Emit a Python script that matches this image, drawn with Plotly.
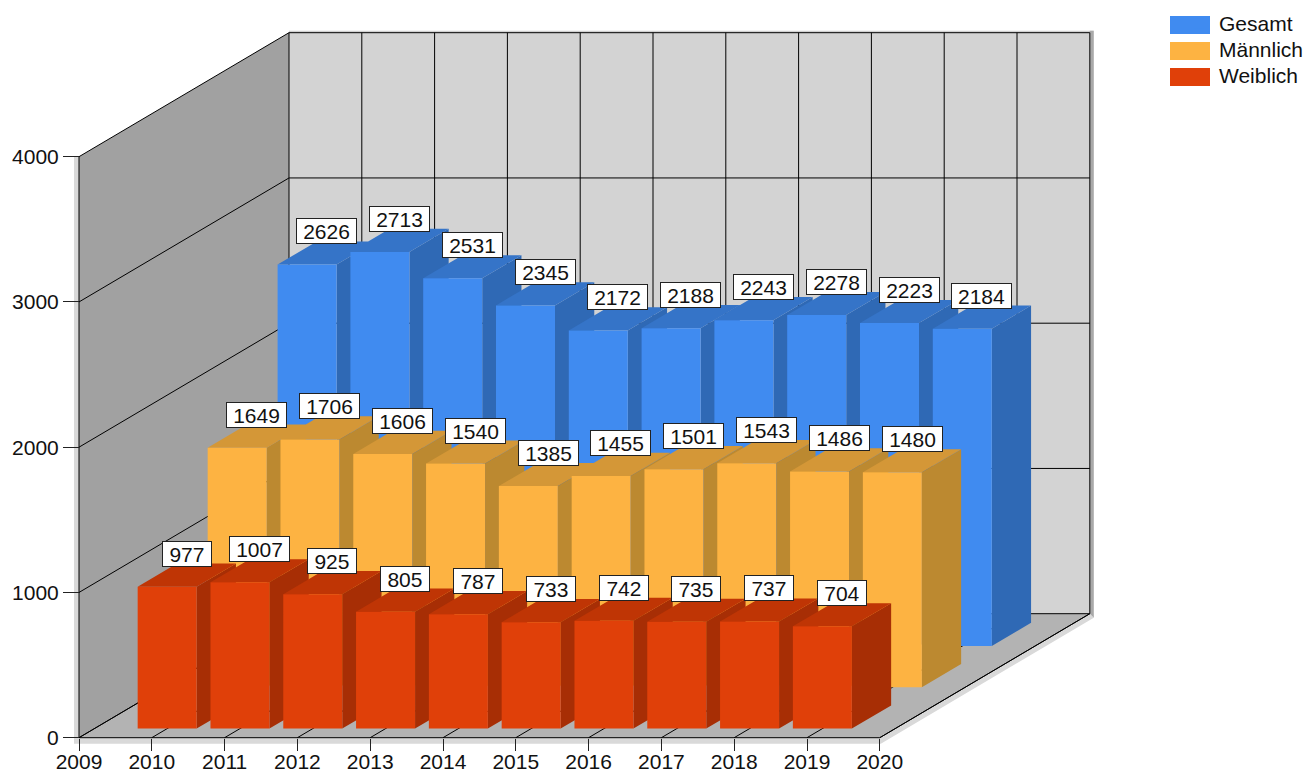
import plotly.graph_objects as go

# ---------- data ----------
years = [2010, 2011, 2012, 2013, 2014, 2015, 2016, 2017, 2018, 2019]
gesamt = [2626, 2713, 2531, 2345, 2172, 2188, 2243, 2278, 2223, 2184]
maennlich = [1649, 1706, 1606, 1540, 1385, 1455, 1501, 1543, 1486, 1480]
weiblich = [977, 1007, 925, 805, 787, 733, 742, 735, 737, 704]
x_ticks = list(range(2009, 2021))
y_ticks = [0, 1000, 2000, 3000, 4000]

FONT = "Liberation Sans, Arial, sans-serif"
TEXT = "#111111"
FS = 21

# ---------- geometry of the oblique projection ----------
W, H = 1305, 771
L, R, T, B = 68, 1100, 26, 748        # plot area, pixels
X0_PX, Y0_PX = 79.0, 737.7            # where (2009, 0) sits
PX_PER_YEAR = 72.8
PX_PER_UNIT = 581.0 / 4000
DEPTH_X = 210.0 / PX_PER_YEAR         # full depth of the box, in years
DEPTH_Y = 124.0 / PX_PER_UNIT         # full depth of the box, in value units
BAR_W = 59.0 / PX_PER_YEAR
BAR_D = 0.187
XMIN, XMAX, YMAX = 2009, 2020, 4000


def P(x, y, d=0.0, ox=0.0, oy=0.0):
    """Project (year, value, depth) onto the 2D axes; ox/oy is a pixel offset."""
    return (x + d * DEPTH_X + ox / PX_PER_YEAR, y + d * DEPTH_Y - oy / PX_PER_UNIT)


def poly_trace(polys, color):
    xs, ys = [], []
    for poly in polys:
        xs += [p[0] for p in poly] + [poly[0][0], None]
        ys += [p[1] for p in poly] + [poly[0][1], None]
    return go.Scatter(x=xs, y=ys, mode="lines", line=dict(width=0, color=color), fill="toself",
                      fillcolor=color, hoverinfo="skip", showlegend=False)


def line_trace(segs, color="#000000", width=1):
    xs, ys = [], []
    for seg in segs:
        xs += [p[0] for p in seg] + [None]
        ys += [p[1] for p in seg] + [None]
    return go.Scatter(x=xs, y=ys, mode="lines", line=dict(width=width, color=color),
                      hoverinfo="skip", showlegend=False)


fig = go.Figure()

# ---------- shadows ----------
fig.add_trace(poly_trace([[P(XMIN, YMAX, 0, -5), P(XMIN, YMAX), P(XMIN, 0), P(XMAX, 0), P(XMAX, 0, 1),
                           P(XMAX, 0, 1, 4, 4), P(XMAX, 0, 0, 1, 6), P(XMIN, 0, 0, -5, 6)]], "#d9d9d9"))
fig.add_trace(poly_trace([[P(XMIN, YMAX, 1), P(XMIN, YMAX, 1, 0, -2), P(XMAX, YMAX, 1, 4, -2), P(XMAX, YMAX, 1)]], "#d0d0d0"))
fig.add_trace(poly_trace([[P(XMAX, YMAX, 1, 0, -2), P(XMAX, YMAX, 1, 4, -2), P(XMAX, 0, 1, 4, 4), P(XMAX, 0, 1)]], "#a9a9a9"))

# ---------- walls ----------
fig.add_trace(poly_trace([[P(XMIN, 0), P(XMIN, YMAX), P(XMIN, YMAX, 1), P(XMIN, 0, 1)]], "#a1a1a1"))
fig.add_trace(poly_trace([[P(XMIN, 0, 1), P(XMIN, YMAX, 1), P(XMAX, YMAX, 1), P(XMAX, 0, 1)]], "#d3d3d3"))
fig.add_trace(poly_trace([[P(XMIN, 0), P(XMAX, 0), P(XMAX, 0, 1), P(XMIN, 0, 1)]], "#b3b3b3"))

# ---------- grid and edges ----------
segs = []
for v in y_ticks:
    segs.append([P(XMIN, v), P(XMIN, v, 1), P(XMAX, v, 1)])
for x in x_ticks:
    segs.append([P(x, 0), P(x, 0, 1), P(x, YMAX, 1)])
segs.append([P(XMIN, 0), P(XMAX, 0), P(XMAX, 0, 1)])
segs.append([P(XMIN, 0), P(XMIN, YMAX)])
fig.add_trace(line_trace(segs))

# ---------- bars ----------
series = [
    ("Gesamt", gesamt, 0.833, "#408bf0", "#3574c8", "#2f69b5"),
    ("Männlich", maennlich, 0.5, "#fdb342", "#d49737", "#bc8930"),
    ("Weiblich", weiblich, 0.1667, "#e04009", "#bf3505", "#a72e05"),
]
annotations = []
for name, vals, mid, front_c, top_c, side_c in series:
    d0, d1 = mid - BAR_D / 2, mid + BAR_D / 2
    fronts, tops, sides = [], [], []
    for yr, v in zip(years, vals):
        a, b = yr - BAR_W / 2, yr + BAR_W / 2
        fronts.append([P(a, 0, d0), P(a, v, d0), P(b, v, d0), P(b, 0, d0)])
        tops.append([P(a, v, d0), P(a, v, d1), P(b, v, d1), P(b, v, d0)])
        sides.append([P(b, 0, d0), P(b, v, d0), P(b, v, d1), P(b, 0, d1)])
        lx, ly = P(yr, v, mid)
        annotations.append(dict(x=lx, y=ly, xref="x", yref="y", text=str(v), showarrow=False,
                                yshift=21.5, xanchor="center", yanchor="middle", align="center", valign="middle",
                                width=len(str(v)) * 11.12 + 12.5, height=22, borderpad=1, borderwidth=1,
                                bordercolor="#222222", bgcolor="#ffffff",
                                font=dict(family=FONT, size=FS, color=TEXT)))
    fig.add_trace(poly_trace(sides, side_c))
    fig.add_trace(poly_trace(tops, top_c))
    fig.add_trace(poly_trace(fronts, front_c))

# ---------- legend: one native legend per row, wide swatches behind the markers ----------
legend_rows = [(25.0, "legend"), (51.0, "legend2"), (77.0, "legend3")]
shapes = []
legends = {}
for (name, vals, mid, front_c, top_c, side_c), (ypx, key) in zip(series, legend_rows):
    fig.add_trace(go.Scatter(x=[None], y=[None], mode="markers", name=name, legend=key, showlegend=True,
                             marker=dict(symbol="square", size=10, color=front_c)))
    shapes.append(dict(type="rect", xref="paper", yref="paper", layer="below", line_width=0, fillcolor=front_c,
                       x0=(1170 - L) / (R - L), x1=(1210 - L) / (R - L),
                       y0=(B - ypx - 9) / (B - T), y1=(B - ypx + 9) / (B - T)))
    legends[key] = dict(x=(1179 - L) / (R - L), y=(B - ypx + 1.5) / (B - T), xref="paper", yref="paper",
                        xanchor="left", yanchor="middle", bgcolor="rgba(0,0,0,0)", borderwidth=0,
                        itemwidth=30, itemclick=False, itemdoubleclick=False,
                        font=dict(family=FONT, size=FS, color=TEXT))

fig.update_layout(
    width=W, height=H, autosize=False,
    margin=dict(l=L, r=W - R, t=T, b=H - B, pad=0, autoexpand=False),
    paper_bgcolor="#ffffff", plot_bgcolor="#ffffff",
    showlegend=True, hovermode=False,
    annotations=annotations, shapes=shapes,
    xaxis=dict(range=[XMIN + (L - X0_PX) / PX_PER_YEAR, XMIN + (R - X0_PX) / PX_PER_YEAR],
               tickmode="array", tickvals=x_ticks, ticktext=[str(t) for t in x_ticks],
               anchor="free", position=(B - Y0_PX) / (B - T), showgrid=False, zeroline=False, showline=False,
               ticks="outside", ticklen=12, tickwidth=1, tickcolor="#222222", ticklabelstandoff=-7,
               tickfont=dict(family=FONT, size=FS, color=TEXT), automargin=False, fixedrange=True),
    yaxis=dict(range=[(Y0_PX - B) / PX_PER_UNIT, (Y0_PX - T) / PX_PER_UNIT],
               tickmode="array", tickvals=y_ticks, ticktext=[str(t) for t in y_ticks],
               anchor="free", position=(X0_PX - L) / (R - L), showgrid=False, zeroline=False, showline=False,
               ticks="outside", ticklen=16, tickwidth=1, tickcolor="#222222",
               tickfont=dict(family=FONT, size=FS, color=TEXT), automargin=False, fixedrange=True),
    **legends,
)

fig.write_html("out.html", config={"displayModeBar": False},
               post_script="document.body.style.margin='0';document.body.style.overflow='hidden';")
